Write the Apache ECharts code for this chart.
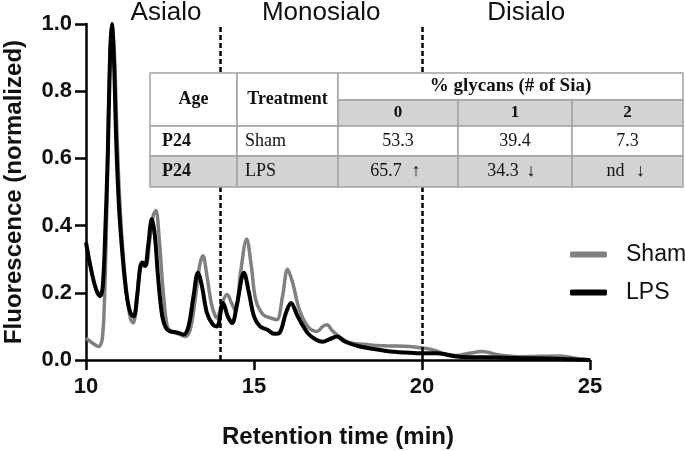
<!DOCTYPE html>
<html>
<head>
<meta charset="utf-8">
<script src="https://cdn.jsdelivr.net/npm/echarts@6/dist/echarts.min.js"></script>
<style>html,body{margin:0;padding:0;background:#fff}#c{width:685px;height:451px}</style>
</head>
<body>
<div id="c"></div>
<script>
// ---- data ----
var shamX = [10.0,10.2,10.37,10.48,10.55,10.62,10.7,10.78,10.85,10.92,11.0,11.1,11.22,11.32,11.4,11.5,11.6,11.68,11.78,11.9,12.0,12.08,12.18,12.3,12.42,12.55,12.75,12.95,13.1,13.25,13.38,13.48,13.6,13.75,13.9,14.05,14.2,14.33,14.45,14.6,14.78,14.92,15.05,15.27,15.5,15.68,15.85,16.0,16.15,16.35,16.6,16.87,17.05,17.17,17.35,17.77,18.45,19.0,19.64,20.33,20.9,21.4,21.8,22.3,22.9,24.1,24.7,25.0];
var shamY = [0.065,0.05,0.04,0.06,0.18,0.45,0.85,1.0,0.90,0.68,0.48,0.32,0.19,0.125,0.11,0.16,0.27,0.28,0.28,0.36,0.43,0.445,0.36,0.20,0.10,0.085,0.078,0.07,0.09,0.18,0.28,0.31,0.25,0.16,0.125,0.17,0.195,0.17,0.145,0.26,0.36,0.28,0.18,0.135,0.125,0.12,0.19,0.27,0.23,0.15,0.10,0.085,0.10,0.105,0.085,0.055,0.045,0.042,0.04,0.03,0.012,0.02,0.025,0.015,0.01,0.012,0.003,0.0];
var lpsX = [10.0,10.15,10.3,10.42,10.5,10.58,10.65,10.72,10.77,10.83,10.9,10.98,11.08,11.2,11.32,11.42,11.52,11.62,11.68,11.76,11.85,11.96,12.05,12.15,12.27,12.38,12.5,12.7,12.9,13.05,13.2,13.33,13.45,13.6,13.78,13.9,14.08,14.22,14.35,14.5,14.7,14.85,15.0,15.18,15.4,15.6,15.75,15.95,16.1,16.3,16.6,16.85,17.05,17.25,17.47,17.7,18.15,18.95,19.5,19.94,20.45,21.1,22.0,22.9,24.0,24.7,25.0];
var lpsY = [0.35,0.27,0.21,0.19,0.22,0.40,0.62,0.92,1.0,0.90,0.65,0.46,0.32,0.20,0.14,0.13,0.19,0.28,0.29,0.28,0.34,0.42,0.37,0.24,0.13,0.095,0.085,0.082,0.076,0.10,0.19,0.26,0.22,0.14,0.105,0.10,0.17,0.13,0.11,0.17,0.26,0.20,0.13,0.10,0.09,0.078,0.08,0.14,0.17,0.13,0.08,0.06,0.054,0.062,0.07,0.055,0.04,0.027,0.022,0.02,0.02,0.01,0.008,0.006,0.004,0.001,0.0];
var regionLines = [14, 20];
var regionNames = ['Asialo', 'Monosialo', 'Disialo'];
var regionCenters = [12.38, 17.0, 23.1];
var xTicks = [10, 15, 20, 25];
var yTicks = [0, 0.2, 0.4, 0.6, 0.8, 1.0];
var tableHeader = ['Age', 'Treatment', '% glycans (# of Sia)'];
var siaCounts = ['0', '1', '2'];
var tableAge = ['P24', 'P24'];
var tableTreatment = ['Sham', 'LPS'];
var tableVals = [['53.3', '39.4', '7.3'], ['65.7', '34.3', 'nd']];
var tableArrows = [['', '', ''], ['\u2191', '\u2193', '\u2193']];

function pairs(xs, ys) { return xs.map(function (x, i) { return [x, ys[i]]; }); }

var chart = echarts.init(document.getElementById('c'), null, {renderer: 'canvas'});
var FONT = '"Liberation Sans", Arial, sans-serif';
var SERIF = '"Liberation Serif", "Times New Roman", serif';

// table layout (pixels)
var colX = [150, 237, 338, 458, 572, 683];
var rowY = [73, 100, 126, 156, 187];
var arrowOff = [18, 16, 13];
var G = [];
var gray = '#d3d3d3', bc = '#a3a3a3';
function rect(x, y, w, h, fill) {
  G.push({type: 'rect', z: 100, shape: {x: x, y: y, width: w, height: h},
    style: {fill: fill, stroke: bc, lineWidth: 1.5}});
}
function txt(t, x, y, opt) {
  var st = {text: t, x: x, y: y, fill: '#111', font: (opt.bold ? 'bold ' : '') + (opt.size || 16) + 'px ' + SERIF,
    textAlign: opt.align || 'center', textVerticalAlign: 'middle'};
  G.push({type: 'text', z: 101, style: st});
}
// header
rect(colX[0], rowY[0], colX[1] - colX[0], rowY[2] - rowY[0], '#fff');
rect(colX[1], rowY[0], colX[2] - colX[1], rowY[2] - rowY[0], '#fff');
rect(colX[2], rowY[0], colX[5] - colX[2], rowY[1] - rowY[0], '#fff');
for (var k = 0; k < 3; k++) rect(colX[2 + k], rowY[1], colX[3 + k] - colX[2 + k], rowY[2] - rowY[1], gray);
for (var r = 0; r < 2; r++) {
  var fill = r === 1 ? gray : '#fff';
  for (var c = 0; c < 5; c++) rect(colX[c], rowY[2 + r], colX[c + 1] - colX[c], rowY[3 + r] - rowY[2 + r], fill);
}
txt(tableHeader[0], (colX[0] + colX[1]) / 2, (rowY[0] + rowY[2]) / 2, {bold: true, size: 18});
txt(tableHeader[1], (colX[1] + colX[2]) / 2, (rowY[0] + rowY[2]) / 2, {bold: true, size: 18});
txt(tableHeader[2], (colX[2] + colX[5]) / 2, (rowY[0] + rowY[1]) / 2, {bold: true, size: 19});
for (k = 0; k < 3; k++) txt(siaCounts[k], (colX[2 + k] + colX[3 + k]) / 2, (rowY[1] + rowY[2]) / 2, {bold: true, size: 17});
for (r = 0; r < 2; r++) {
  var cy = (rowY[2 + r] + rowY[3 + r]) / 2;
  txt(tableAge[r], colX[0] + 12, cy, {bold: true, size: 18, align: 'left'});
  txt(tableTreatment[r], colX[1] + 8, cy, {size: 18, align: 'left'});
  for (k = 0; k < 3; k++) {
    var cx = (colX[2 + k] + colX[3 + k]) / 2;
    if (tableArrows[r][k]) {
      txt(tableVals[r][k], cx - 12, cy, {size: 18});
      txt(tableArrows[r][k], cx + arrowOff[k], cy, {size: 18, bold: true});
    } else {
      txt(tableVals[r][k], cx, cy, {size: 18});
    }
  }
}

var option = {
  animation: false,
  backgroundColor: '#fff',
  grid: {left: 86, right: 95, top: 24, bottom: 91, containLabel: false, outerBoundsMode: 'none'},
  legend: {
    orient: 'vertical', left: 565, top: 238, itemWidth: 37, itemHeight: 6, itemGap: 15,
    icon: 'roundRect',
    textStyle: {fontFamily: FONT, fontSize: 23, color: '#111', padding: [0, 0, 0, 14]},
    data: ['Sham', 'LPS']
  },
  xAxis: {
    type: 'value', min: 10, max: 25, interval: 5,
    name: 'Retention time (min)', nameLocation: 'middle', nameGap: 65,
    nameTextStyle: {fontFamily: FONT, fontSize: 24, fontWeight: 'bold', color: '#111'},
    axisLine: {lineStyle: {color: '#000', width: 2.5}},
    axisTick: {length: 10, lineStyle: {width: 2.5, color: '#000'}},
    axisLabel: {fontFamily: FONT, fontSize: 22, fontWeight: 'bold', color: '#111', margin: 16},
    splitLine: {show: false}
  },
  yAxis: {
    type: 'value', min: 0, max: 1, interval: 0.2,
    name: 'Fluorescence (normalized)', nameLocation: 'middle', nameGap: 60,
    nameTextStyle: {fontFamily: FONT, fontSize: 24, fontWeight: 'bold', color: '#111'},
    axisLine: {show: true, lineStyle: {color: '#000', width: 2.5}},
    axisTick: {show: true, length: 11, lineStyle: {width: 2.5, color: '#000'}},
    axisLabel: {fontFamily: FONT, fontSize: 22, fontWeight: 'bold', color: '#111', margin: 14,
      formatter: function (v) { return v.toFixed(1); }},
    splitLine: {show: false}
  },
  series: [
    {
      name: 'Sham', type: 'line', data: pairs(shamX, shamY), showSymbol: false, smooth: 0.35,
      color: '#808080', lineStyle: {color: '#808080', width: 3.5}, z: 2,
      markLine: {
        silent: true, symbol: 'none', label: {show: false},
        lineStyle: {color: '#000', width: 2.5, type: [5, 3]},
        data: regionLines.map(function (v) { return {xAxis: v}; })
      }
    },
    {
      name: 'LPS', type: 'line', data: pairs(lpsX, lpsY), showSymbol: false, smooth: 0.35,
      color: '#000', lineStyle: {color: '#000', width: 4}, z: 3
    }
  ],
  graphic: G
};
chart.setOption(option);

// region labels placed via axis scale
var extra = regionNames.map(function (n, i) {
  var p = chart.convertToPixel({xAxisIndex: 0}, regionCenters[i]);
  return {type: 'text', z: 102, style: {text: n, x: p, y: 13, fill: '#111',
    font: '26px ' + FONT, textAlign: 'center', textVerticalAlign: 'middle'}};
});
chart.setOption({graphic: G.concat(extra)});
</script>
</body>
</html>
